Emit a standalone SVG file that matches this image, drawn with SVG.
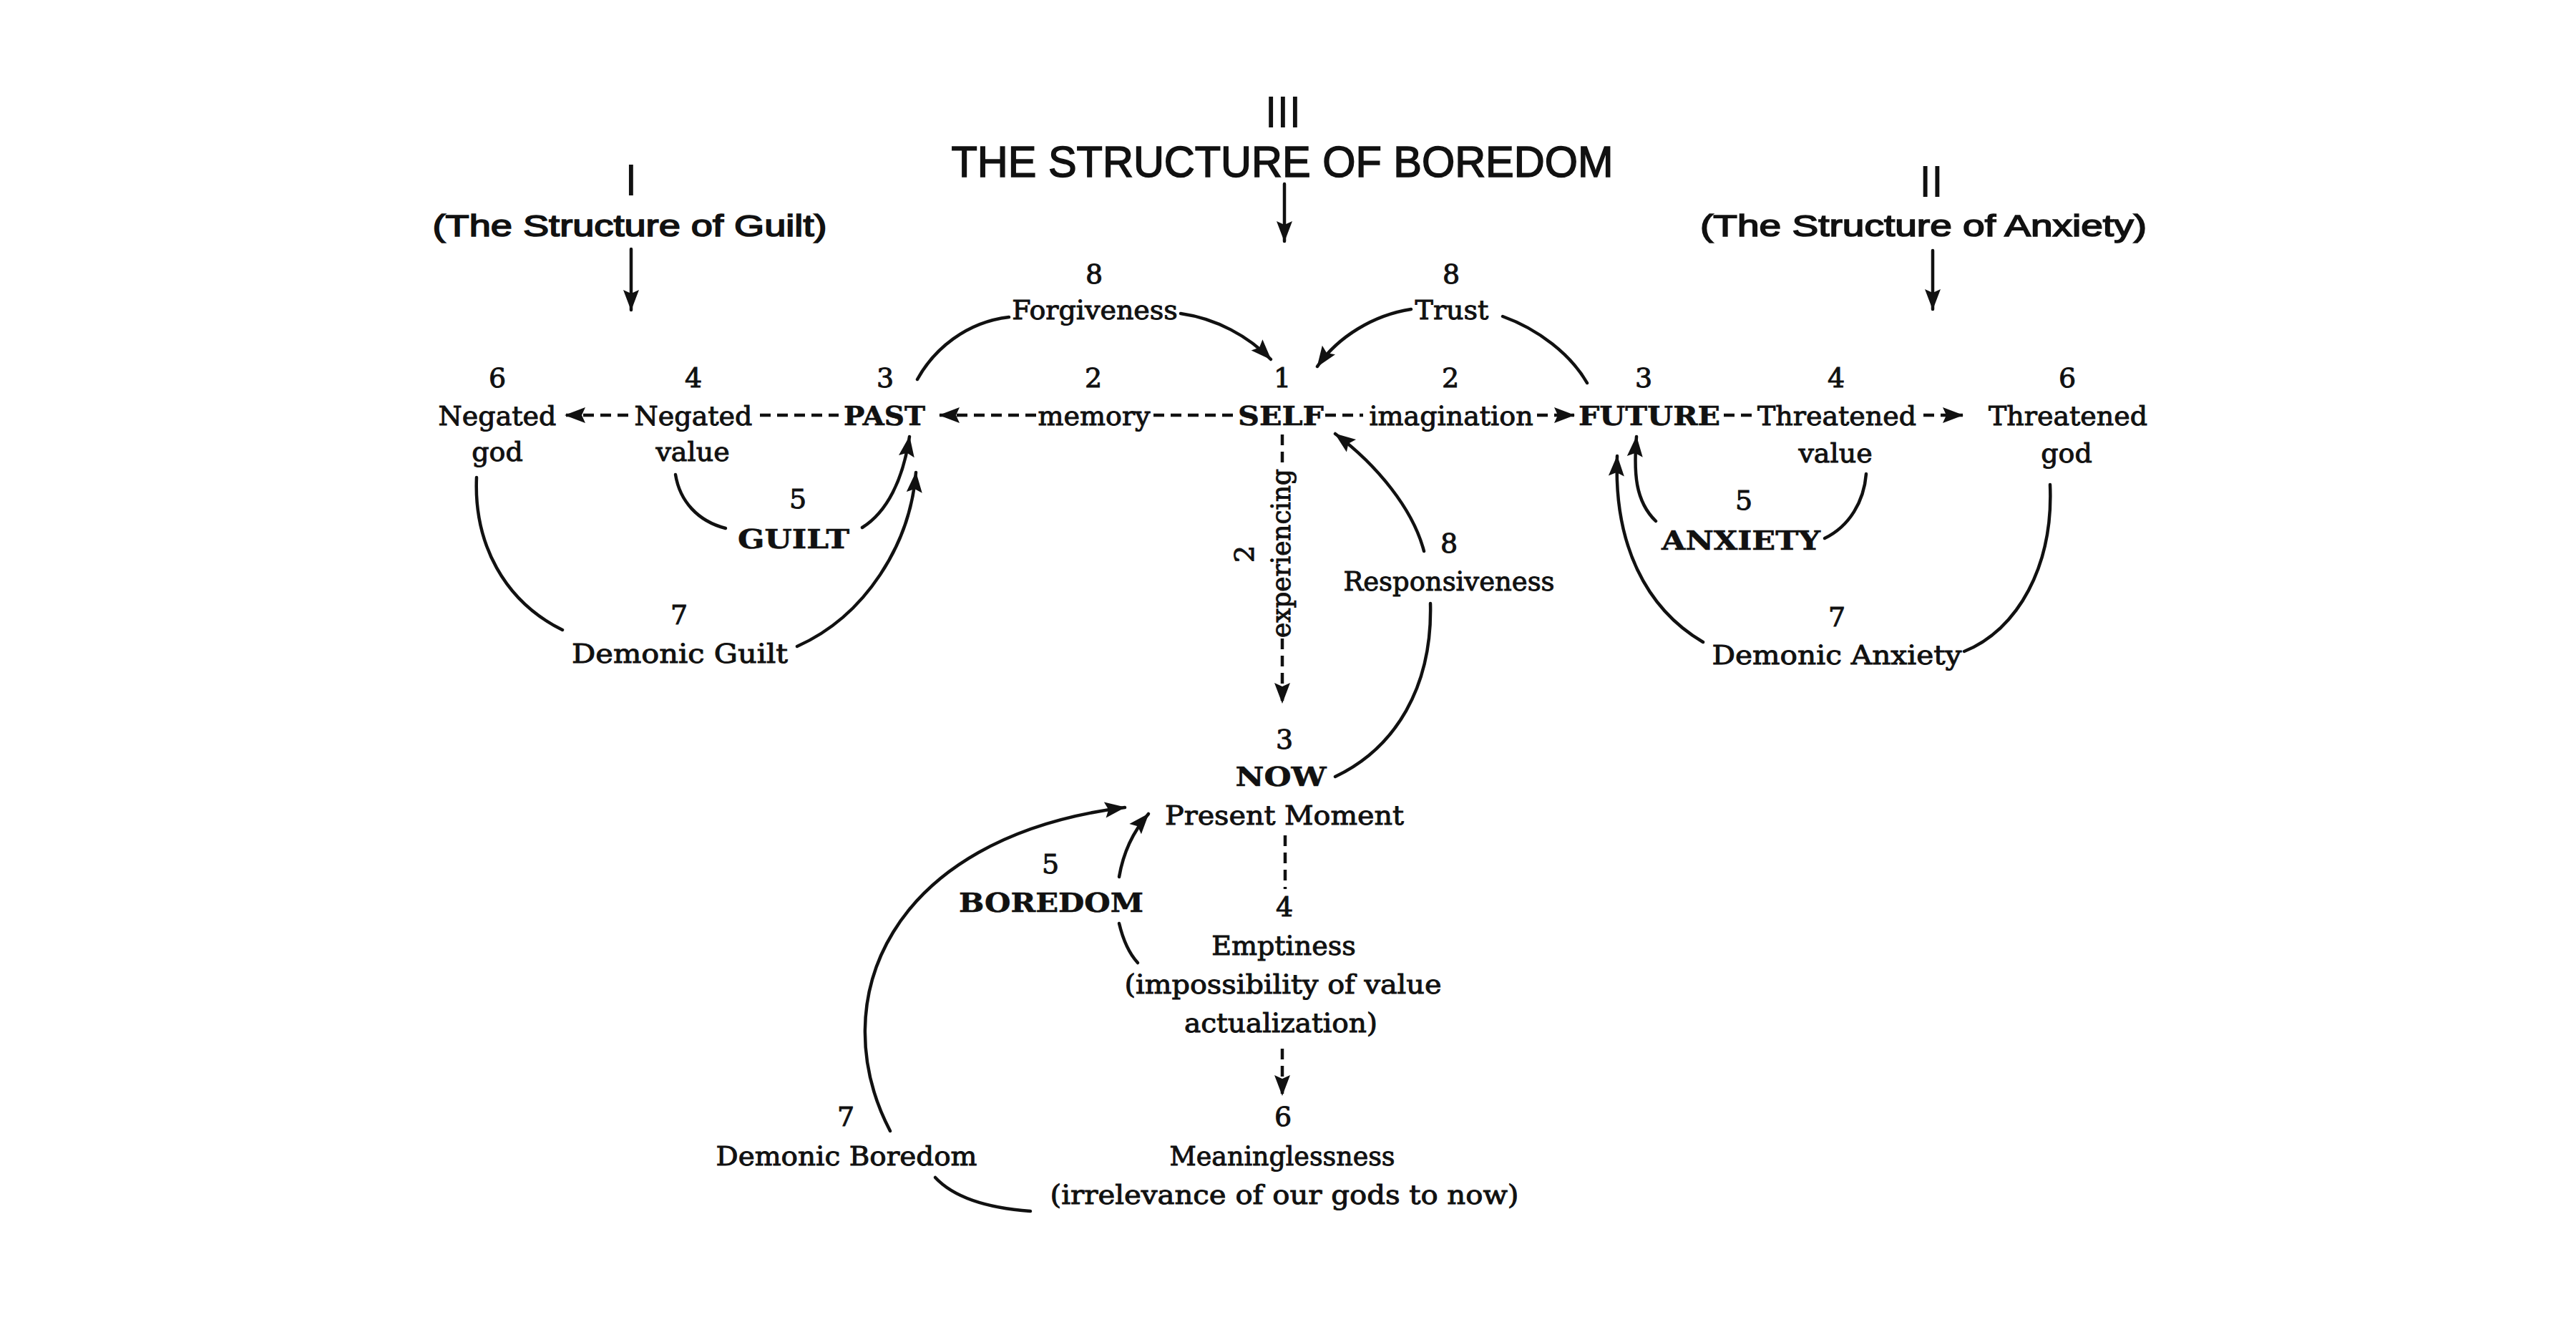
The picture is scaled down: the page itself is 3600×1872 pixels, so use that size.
<svg xmlns="http://www.w3.org/2000/svg" width="3600" height="1872" viewBox="0 0 3600 1872">
<style>
.n{font-family:"DejaVu Serif","Liberation Serif",serif;font-size:38px;text-anchor:middle;fill:#111;stroke:#111;stroke-width:1}
.b{font-weight:bold;stroke-width:0.6}
.t{font-family:"Liberation Sans","DejaVu Sans",sans-serif;text-anchor:middle;fill:#111;stroke:#111;stroke-width:1.6}
.c{fill:none;stroke:#111;stroke-width:4.5;stroke-linecap:round}
.d{stroke-dasharray:15 9;stroke-linecap:butt}
</style>
<defs>
<marker id="ah" markerUnits="userSpaceOnUse" markerWidth="30" markerHeight="24" refX="28" refY="12" orient="auto" overflow="visible">
<path d="M0,1 L29,12 L0,23 L5,12 Z" fill="#111"/>
</marker>
</defs>
<rect width="3600" height="1872" fill="#fff"/>

<g id="title-boredom">
<text class="t" transform="translate(1795,177) scale(1,1.3)" font-size="46" letter-spacing="4">III</text>
<text class="t" x="1792" y="247" font-size="62" textLength="925" lengthAdjust="spacingAndGlyphs">THE STRUCTURE OF BOREDOM</text>
</g>
<g id="title-guilt">
<text class="t" transform="translate(882,272) scale(1,1.3)" font-size="46">I</text>
<text class="t" x="880" y="330" font-size="42" textLength="551" lengthAdjust="spacingAndGlyphs">(The Structure of Guilt)</text>
</g>
<g id="title-anxiety">
<text class="t" transform="translate(2701,274) scale(1,1.3)" font-size="46" letter-spacing="4">II</text>
<text class="t" x="2688" y="330" font-size="42" textLength="624" lengthAdjust="spacingAndGlyphs">(The Structure of Anxiety)</text>
</g>

<g id="negated-god">
<text class="n" x="695" y="541">6</text>
<text class="n" x="695" y="594">Negated</text>
<text class="n" x="695" y="644">god</text>
</g>
<g id="negated-value">
<text class="n" x="969" y="541">4</text>
<text class="n" x="969" y="594">Negated</text>
<text class="n" x="968" y="644">value</text>
</g>
<g id="past">
<text class="n" x="1237" y="541">3</text>
<text class="n b" x="1236" y="594" textLength="114" lengthAdjust="spacingAndGlyphs">PAST</text>
</g>
<g id="memory">
<text class="n" x="1528" y="541">2</text>
<text class="n" x="1529" y="594">memory</text>
</g>
<g id="self">
<text class="n" x="1792" y="541">1</text>
<text class="n b" x="1790" y="594" textLength="120" lengthAdjust="spacingAndGlyphs">SELF</text>
</g>
<g id="imagination">
<text class="n" x="2027" y="541">2</text>
<text class="n" x="2028" y="594">imagination</text>
</g>
<g id="future">
<text class="n" x="2297" y="541">3</text>
<text class="n b" x="2305" y="594" textLength="198" lengthAdjust="spacingAndGlyphs">FUTURE</text>
</g>
<g id="threatened-value">
<text class="n" x="2566" y="541">4</text>
<text class="n" x="2567" y="594">Threatened</text>
<text class="n" x="2565" y="646">value</text>
</g>
<g id="threatened-god">
<text class="n" x="2889" y="541">6</text>
<text class="n" x="2890" y="594">Threatened</text>
<text class="n" x="2888" y="646">god</text>
</g>
<g id="forgiveness">
<text class="n" x="1529" y="396">8</text>
<text class="n" x="1530" y="446">Forgiveness</text>
</g>
<g id="trust">
<text class="n" x="2028" y="396">8</text>
<text class="n" x="2029" y="446">Trust</text>
</g>
<g id="guilt">
<text class="n" x="1115" y="710">5</text>
<text class="n b" x="1109" y="766" textLength="156" lengthAdjust="spacingAndGlyphs">GUILT</text>
</g>
<g id="demonic-guilt">
<text class="n" x="949" y="872">7</text>
<text class="n" x="950" y="926" textLength="302" lengthAdjust="spacingAndGlyphs">Demonic Guilt</text>
</g>
<g id="anxiety">
<text class="n" x="2437" y="712">5</text>
<text class="n b" x="2433" y="768" textLength="222" lengthAdjust="spacingAndGlyphs">ANXIETY</text>
</g>
<g id="demonic-anxiety">
<text class="n" x="2567" y="875">7</text>
<text class="n" x="2567" y="928" textLength="349" lengthAdjust="spacingAndGlyphs">Demonic Anxiety</text>
</g>
<g id="responsiveness">
<text class="n" x="2025" y="772">8</text>
<text class="n" x="2025" y="825" textLength="295" lengthAdjust="spacingAndGlyphs">Responsiveness</text>
</g>
<g id="experiencing">
<text class="n" transform="translate(1752,774) rotate(-90)" x="0" y="0">2</text>
<text class="n" transform="translate(1803,773) rotate(-90)" x="0" y="0" font-size="36" textLength="236" lengthAdjust="spacingAndGlyphs">experiencing</text>
</g>
<g id="now">
<text class="n" x="1795" y="1046">3</text>
<text class="n b" x="1790" y="1098" textLength="127" lengthAdjust="spacingAndGlyphs">NOW</text>
<text class="n" x="1795" y="1152" textLength="334" lengthAdjust="spacingAndGlyphs">Present Moment</text>
</g>
<g id="boredom">
<text class="n" x="1468" y="1220">5</text>
<text class="n b" x="1469" y="1274" textLength="258" lengthAdjust="spacingAndGlyphs">BOREDOM</text>
</g>
<g id="emptiness">
<text class="n" x="1795" y="1280">4</text>
<text class="n" x="1794" y="1334">Emptiness</text>
<text class="n" x="1793" y="1388" textLength="443" lengthAdjust="spacingAndGlyphs">(impossibility of value</text>
<text class="n" x="1790" y="1442" textLength="270" lengthAdjust="spacingAndGlyphs">actualization)</text>
</g>
<g id="meaninglessness">
<text class="n" x="1793" y="1573">6</text>
<text class="n" x="1792" y="1628" textLength="315" lengthAdjust="spacingAndGlyphs">Meaninglessness</text>
<text class="n" x="1795" y="1682" textLength="655" lengthAdjust="spacingAndGlyphs">(irrelevance of our gods to now)</text>
</g>
<g id="demonic-boredom">
<text class="n" x="1182" y="1573">7</text>
<text class="n" x="1183" y="1628" textLength="365" lengthAdjust="spacingAndGlyphs">Demonic Boredom</text>
</g>

<g id="connectors">
<path class="c" d="M1795,257 V337" marker-end="url(#ah)"/>
<path class="c" d="M882,348 V433" marker-end="url(#ah)"/>
<path class="c" d="M2701,350 V432" marker-end="url(#ah)"/>

<path class="c d" d="M878,580 H790" marker-end="url(#ah)"/>
<path class="c d" d="M1062,580 H1172"/>
<path class="c d" d="M1448,580 H1313" marker-end="url(#ah)"/>
<path class="c d" d="M1612,580 H1725"/>
<path class="c d" d="M1852,580 H1905"/>
<path class="c d" d="M2148,580 H2200" marker-end="url(#ah)"/>
<path class="c d" d="M2409,580 H2452"/>
<path class="c d" d="M2688,580 H2743" marker-end="url(#ah)"/>

<path class="c d" d="M1792,607 V652"/>
<path class="c d" d="M1792,892 V982" marker-end="url(#ah)"/>
<path class="c d" d="M1796,1167 V1242"/>
<path class="c d" d="M1792,1465 V1530" marker-end="url(#ah)"/>

<path class="c" d="M1282,530 C1305,488 1350,450 1410,443"/>
<path class="c" d="M1650,438 C1700,445 1745,470 1776,502" marker-end="url(#ah)"/>
<path class="c" d="M1972,432 C1920,440 1870,470 1841,512" marker-end="url(#ah)"/>
<path class="c" d="M2100,442 C2150,460 2195,495 2218,535"/>
<path class="c" d="M1990,770 C1975,712 1925,650 1866,606" marker-end="url(#ah)"/>
<path class="c" d="M1999,843 C2002,960 1950,1045 1866,1085"/>

<path class="c" d="M944,663 C950,700 975,728 1014,738"/>
<path class="c" d="M1205,737 C1240,715 1262,670 1271,610" marker-end="url(#ah)"/>
<path class="c" d="M666,667 C662,760 705,840 786,880"/>
<path class="c" d="M1114,903 C1210,860 1272,760 1280,660" marker-end="url(#ah)"/>

<path class="c" d="M2314,728 C2285,700 2283,660 2287,610" marker-end="url(#ah)"/>
<path class="c" d="M2608,662 C2605,700 2585,735 2550,752"/>
<path class="c" d="M2380,897 C2300,850 2255,760 2260,637" marker-end="url(#ah)"/>
<path class="c" d="M2865,677 C2870,790 2820,880 2745,910"/>

<path class="c" d="M1564,1225 C1570,1190 1585,1160 1605,1137" marker-end="url(#ah)"/>
<path class="c" d="M1564,1290 C1570,1315 1578,1332 1590,1345"/>
<path class="c" d="M1244,1580 C1150,1400 1240,1170 1572,1128" marker-end="url(#ah)"/>
<path class="c" d="M1307,1645 C1335,1675 1385,1688 1440,1692"/>
</g>
</svg>
